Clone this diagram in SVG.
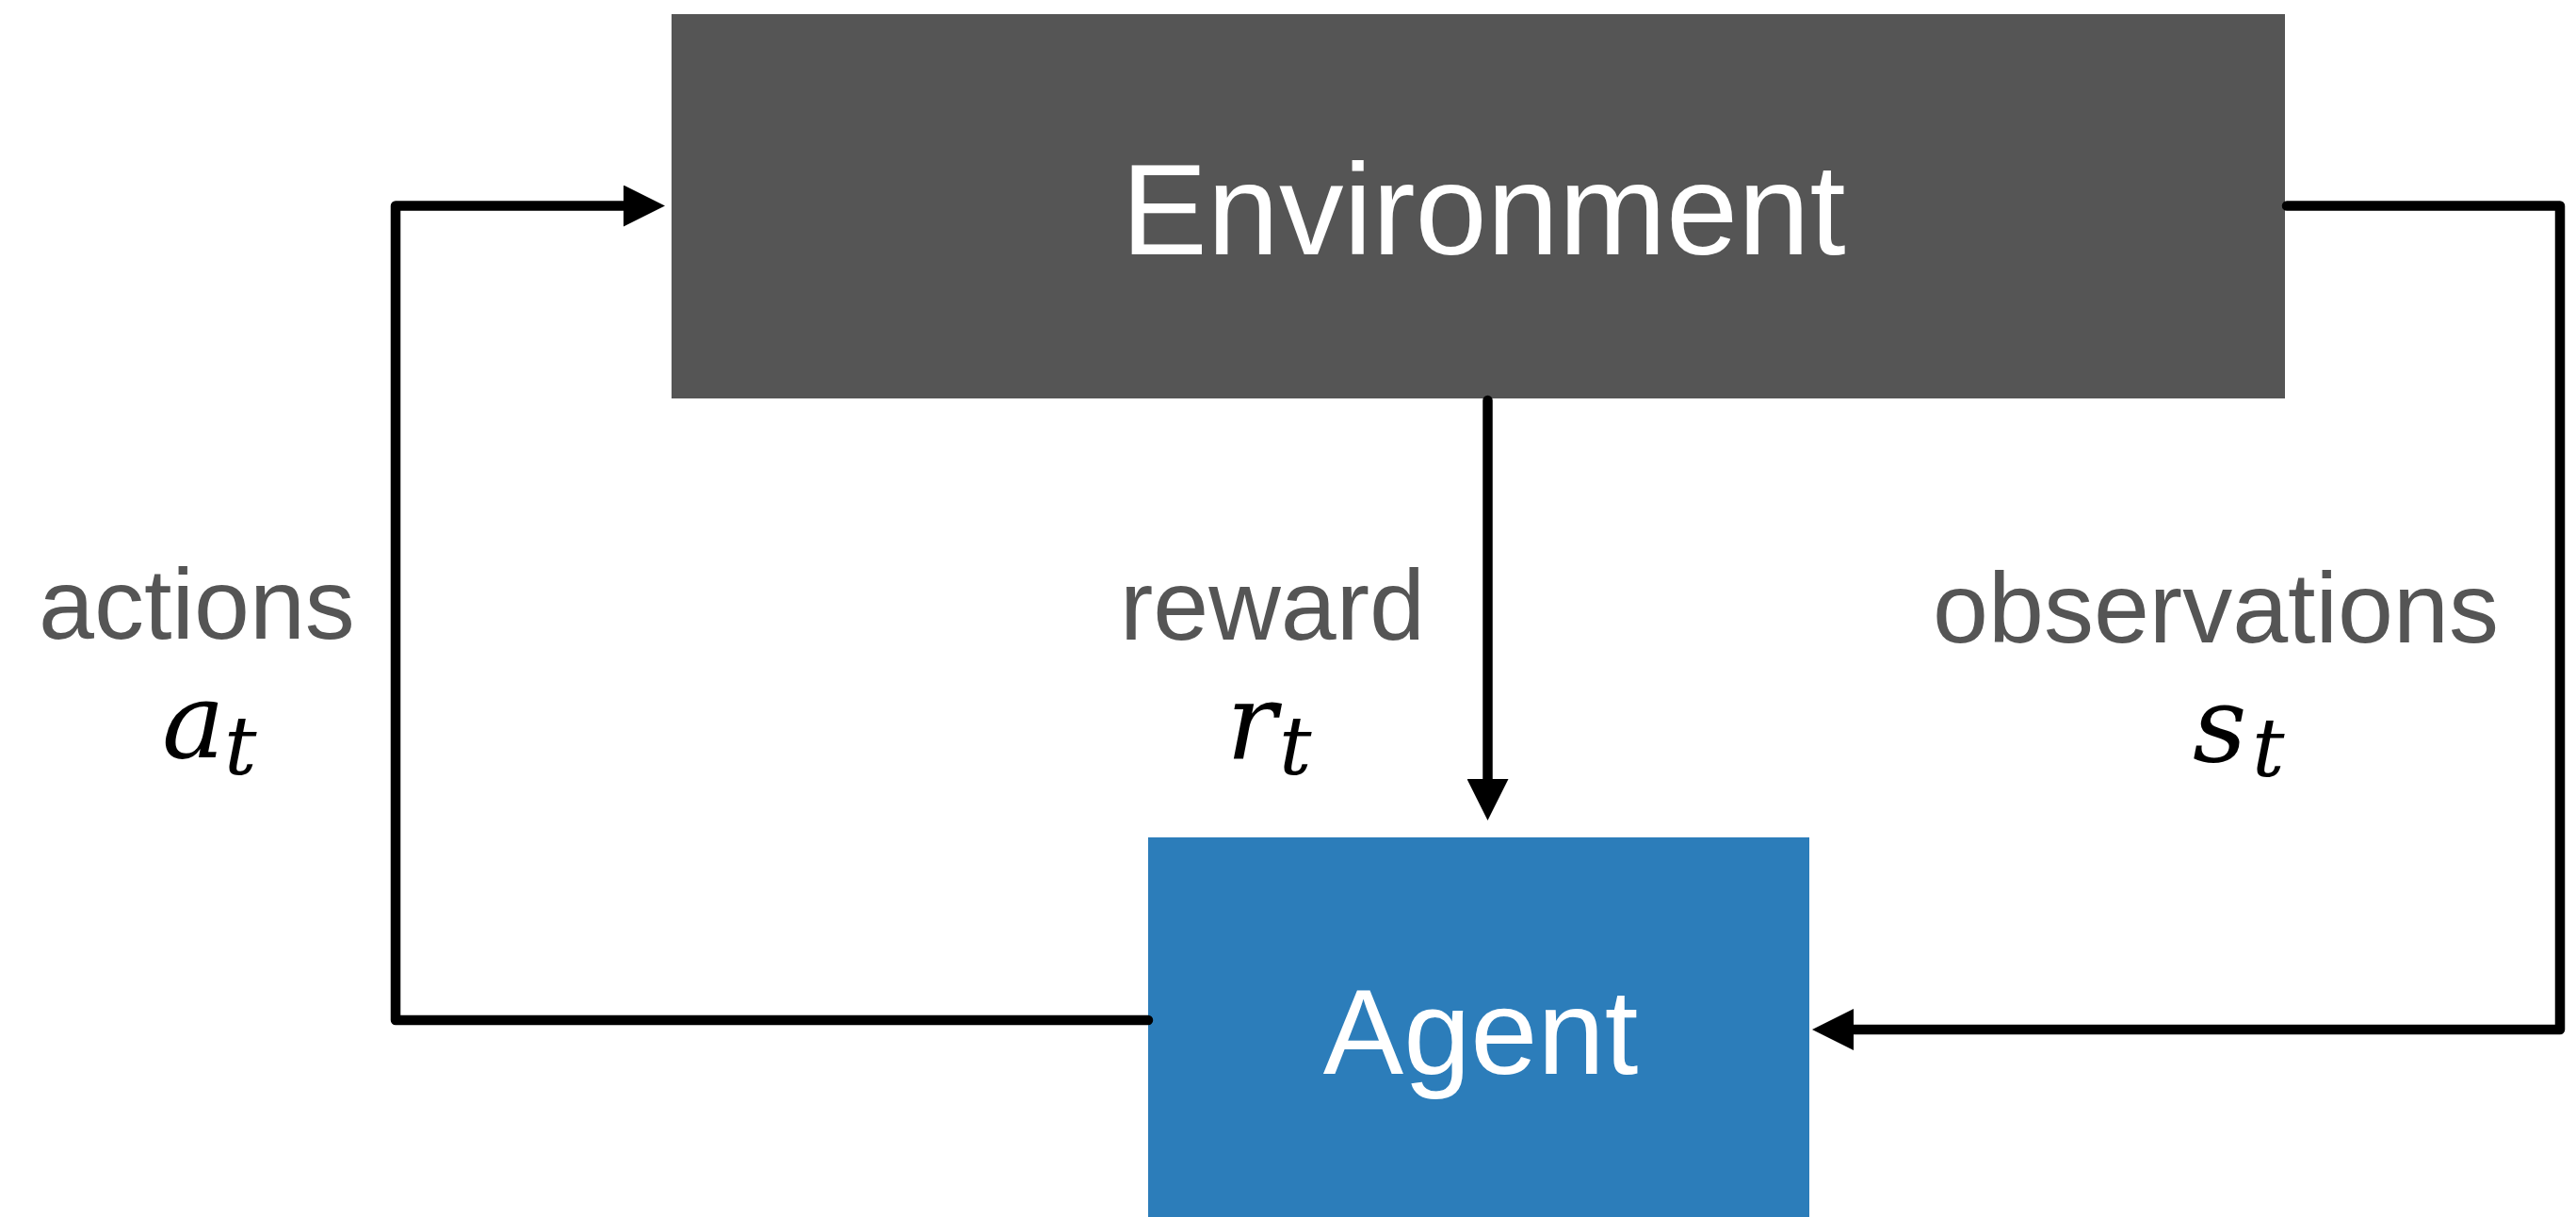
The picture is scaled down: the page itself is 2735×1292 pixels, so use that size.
<svg xmlns="http://www.w3.org/2000/svg" width="2735" height="1292" viewBox="0 0 2735 1292">
  <defs>
    <style>
      .box-label { font-family: "Liberation Sans", Arial, sans-serif; fill: #ffffff; text-anchor: middle; }
      .edge { text-anchor: start; }
      .edge-label { font-family: "Liberation Sans", Arial, sans-serif; font-size: 106px; fill: #555555; }
      .math { font-family: "DejaVu Serif", "Liberation Serif", serif; font-style: italic; fill: #000000; font-size: 112px; }
      .sub { font-family: "DejaVu Serif", "Liberation Serif", serif; font-style: italic; fill: #000000; font-size: 86px; }
      .conn { fill: none; stroke: #000000; stroke-width: 10.5; stroke-linecap: round; stroke-linejoin: round; }
    </style>
    <marker id="arrow" markerUnits="userSpaceOnUse" markerWidth="44" markerHeight="44" viewBox="0 0 44 44" refX="0" refY="22" orient="auto">
      <path d="M0,0 L44,22 L0,44 Z" fill="#000000"/>
    </marker>
  </defs>
  <rect width="2735" height="1292" fill="#ffffff"/>

  <g id="environment">
    <rect x="713" y="15" width="1713" height="408" fill="#555555"/>
    <text class="box-label" x="1575" y="270" font-size="137">Environment</text>
  </g>

  <g id="agent">
    <rect x="1219" y="889" width="702" height="403" fill="#2c7dba"/>
    <text class="box-label" x="1572" y="1140" font-size="128">Agent</text>
  </g>

  <g id="connectors">
    <path class="conn" d="M1219,1083 L420,1083 L420,218.5 L662,218.5" marker-end="url(#arrow)"/>
    <path class="conn" d="M1579.5,425 L1579.5,827" marker-end="url(#arrow)"/>
    <path class="conn" d="M2428,218.5 L2718,218.5 L2718,1093 L1968,1093" marker-end="url(#arrow)"/>
  </g>

  <g id="labels">
    <text class="edge"><tspan class="edge-label" x="41" y="678">actions</tspan><tspan class="math" x="172" y="804">a</tspan><tspan class="sub" x="238" y="822">t</tspan></text>
    <text class="edge"><tspan class="edge-label" x="1189" y="679">reward</tspan><tspan class="math" x="1302" y="806">r</tspan><tspan class="sub" x="1358" y="822">t</tspan></text>
    <text class="edge"><tspan class="edge-label" x="2052" y="682">observations</tspan><tspan class="math" x="2328" y="808">s</tspan><tspan class="sub" x="2391" y="824">t</tspan></text>
  </g>
</svg>
